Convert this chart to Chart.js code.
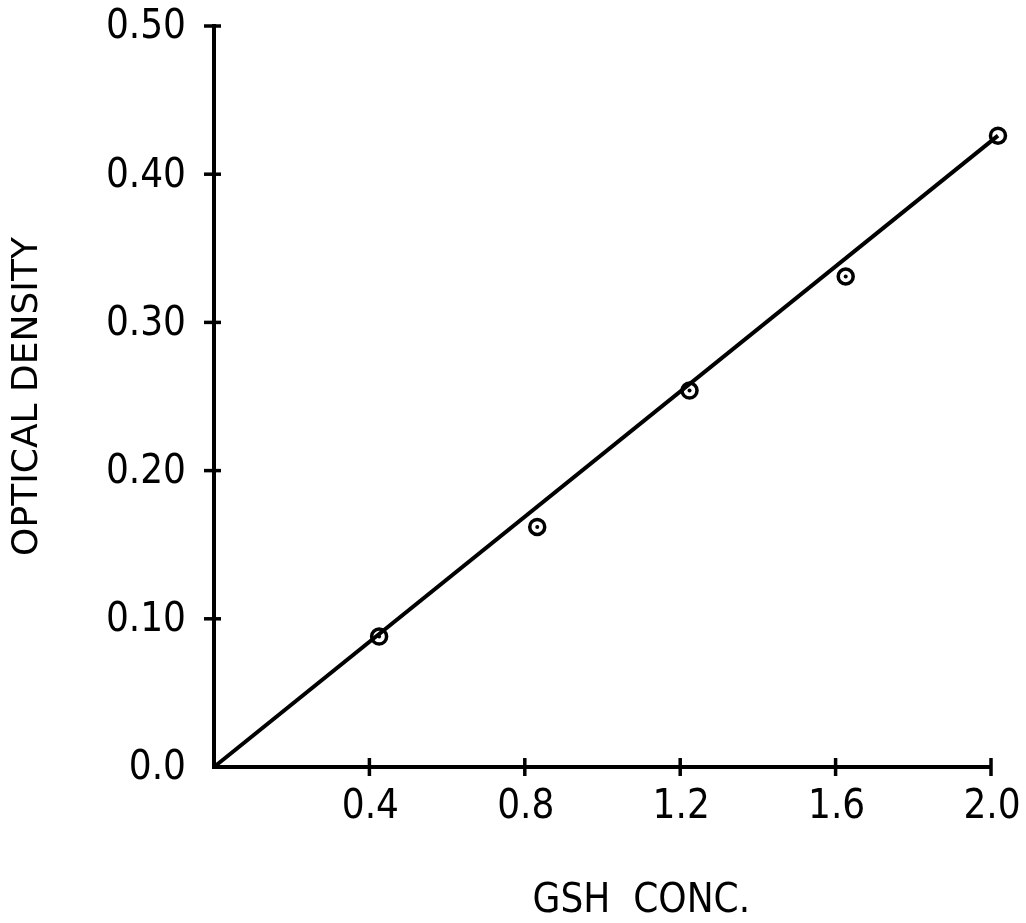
<!DOCTYPE html>
<html>
<head>
<meta charset="utf-8">
<script src="https://cdn.jsdelivr.net/npm/chart.js@4/dist/chart.umd.min.js"></script>
<style>
  html, body { margin: 0; padding: 0; background: #ffffff; }
  #wrap { width: 1026px; height: 923px; position: relative; }
  canvas { display: block; }
</style>
</head>
<body>
<div id="wrap"><canvas id="c" width="1026" height="923"></canvas></div>
<script>
// Measured points: GSH concentration vs optical density
const gshConc = [0.425, 0.832, 1.224, 1.626, 2.018];
const opticalDensity = [0.088, 0.162, 0.254, 0.331, 0.426];

// Standard curve through the origin
const fitConc = [0, 2.018];
const fitDensity = [0, 0.426];

// Axis ticks and their labels
const xTickValues = [0.4, 0.8, 1.2, 1.6, 2.0];
const xTickLabels = ['0.4', '0.8', '1.2', '1.6', '2.0'];
const yTickValues = [0, 0.1, 0.2, 0.3, 0.4, 0.5];
const yTickLabels = ['0.0', '0.10', '0.20', '0.30', '0.40', '0.50'];

const INK = '#000000';
const NARROW = "'Liberation Sans Narrow', 'DejaVu Sans Condensed', 'DejaVu Sans', sans-serif";
const WIDE = "'DejaVu Sans', sans-serif";

const toPoints = (xs, ys) => xs.map((x, i) => ({ x: x, y: ys[i] }));

// Tick marks that cross the axis line, placed from the scales
const crossTicks = {
  id: 'crossTicks',
  afterDatasetsDraw(chart) {
    const { ctx, chartArea, scales } = chart;
    ctx.save();
    ctx.strokeStyle = INK;
    ctx.lineWidth = 3.5;
    ctx.lineCap = 'butt';
    xTickValues.forEach(v => {
      const px = scales.x.getPixelForValue(v);
      ctx.beginPath();
      ctx.moveTo(px, chartArea.bottom - 9);
      ctx.lineTo(px, chartArea.bottom + 9);
      ctx.stroke();
    });
    yTickValues.forEach(v => {
      if (v === 0) return;
      const py = scales.y.getPixelForValue(v);
      ctx.beginPath();
      ctx.moveTo(chartArea.left - 10, py);
      ctx.lineTo(chartArea.left + 7, py);
      ctx.stroke();
    });
    ctx.restore();
  }
};

// Horizontal axis caption, set a little right of the axis centre
const xCaption = {
  id: 'xCaption',
  afterDraw(chart) {
    const { ctx, chartArea } = chart;
    ctx.save();
    ctx.fillStyle = INK;
    ctx.font = '40px ' + NARROW;
    ctx.textAlign = 'center';
    ctx.textBaseline = 'middle';
    const cx = chartArea.left + (chartArea.right - chartArea.left) * 0.55;
    ctx.fillText('GSH  CONC.', cx, 902);
    ctx.restore();
  }
};

new Chart(document.getElementById('c'), {
  type: 'scatter',
  data: {
    datasets: [
      {
        type: 'line',
        data: toPoints(fitConc, fitDensity),
        borderColor: INK,
        borderWidth: 4,
        pointRadius: 0,
        fill: false,
        tension: 0,
        clip: false,
        order: 3
      },
      {
        data: toPoints(gshConc, opticalDensity),
        pointStyle: 'circle',
        pointRadius: 7.5,
        pointBorderWidth: 3.5,
        pointBorderColor: INK,
        pointBackgroundColor: 'rgba(0,0,0,0)',
        clip: false,
        order: 2
      },
      {
        data: toPoints(gshConc, opticalDensity),
        pointStyle: 'circle',
        pointRadius: 2,
        pointBorderWidth: 0,
        pointBackgroundColor: INK,
        clip: false,
        order: 1
      }
    ]
  },
  options: {
    responsive: false,
    animation: false,
    devicePixelRatio: 1,
    layout: { padding: { left: 0, top: 26, right: 35, bottom: 0 } },
    plugins: {
      legend: { display: false },
      tooltip: { enabled: false },
      title: { display: false }
    },
    scales: {
      x: {
        type: 'linear',
        min: 0,
        max: 2.0,
        afterFit(scale) {
          scale.height = 156;
          scale.paddingLeft = 0;
          scale.paddingRight = 0;
        },
        afterBuildTicks(scale) { scale.ticks = xTickValues.map(v => ({ value: v })); },
        grid: { display: false, drawTicks: false },
        border: { display: true, color: INK, width: 4 },
        ticks: {
          color: INK,
          font: { family: NARROW, size: 40 },
          padding: 17,
          labelOffset: 1,
          maxRotation: 0,
          autoSkip: false,
          callback(value) {
            const i = xTickValues.findIndex(v => Math.abs(v - value) < 1e-9);
            return i >= 0 ? xTickLabels[i] : '';
          }
        },
        title: { display: false }
      },
      y: {
        type: 'linear',
        min: 0,
        max: 0.5,
        afterFit(scale) {
          scale.width = 214;
          scale.paddingTop = 0;
          scale.paddingBottom = 0;
        },
        afterBuildTicks(scale) { scale.ticks = yTickValues.map(v => ({ value: v })); },
        grid: { display: false, drawTicks: false },
        border: { display: true, color: INK, width: 4 },
        ticks: {
          color: INK,
          font: { family: NARROW, size: 40 },
          padding: 28,
          labelOffset: 2,
          autoSkip: false,
          callback(value) {
            const i = yTickValues.findIndex(v => Math.abs(v - value) < 1e-9);
            return i >= 0 ? yTickLabels[i] : '';
          }
        },
        title: {
          display: true,
          text: 'OPTICAL DENSITY',
          color: INK,
          font: { family: WIDE, size: 36 },
          padding: { top: 6, bottom: 0 }
        }
      }
    }
  },
  plugins: [crossTicks, xCaption]
});
</script>
</body>
</html>
